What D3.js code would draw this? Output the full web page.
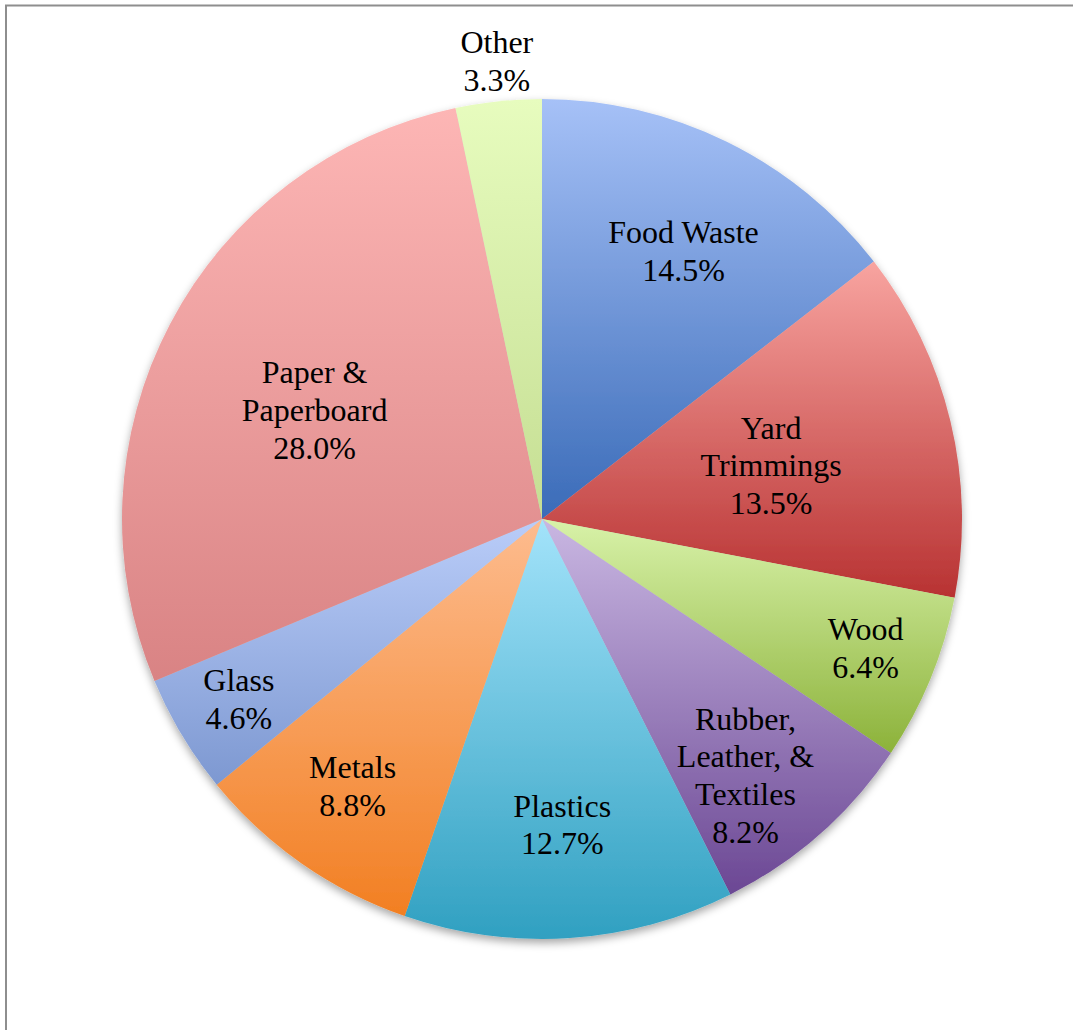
<!DOCTYPE html>
<html>
<head>
<meta charset="utf-8">
<script src="https://cdn.jsdelivr.net/npm/d3@7"></script>
<style>
  html, body { margin: 0; padding: 0; background: #fff; }
  svg { display: block; }
</style>
</head>
<body>
<svg id="chart" width="1073" height="1030"></svg>
<script>
// Municipal solid waste composition (percent of total)
const categories = ["Food Waste", "Yard Trimmings", "Wood", "Rubber, Leather, & Textiles",
  "Plastics", "Metals", "Glass", "Paper & Paperboard", "Other"];
const values = [14.5, 13.5, 6.4, 8.2, 12.7, 8.8, 4.6, 28.0, 3.3];
// Line breaks used for each slice label
const labelLines = [
  ["Food Waste"],
  ["Yard", "Trimmings"],
  ["Wood"],
  ["Rubber,", "Leather, &", "Textiles"],
  ["Plastics"],
  ["Metals"],
  ["Glass"],
  ["Paper &", "Paperboard"],
  ["Other"]
];

// Styling: vertical gradient stops (top, bottom) per slice
const gradTop = ["#a6c1f7", "#f8a4a0", "#d8f2a9", "#c9b7e2", "#a3e3fa", "#fdbc8f", "#bacdf9", "#fdb6b5", "#e7fcbe"];
const gradBottom = ["#3a6bb8", "#b83232", "#8cb23a", "#6b4794", "#30a0c1", "#f27f22", "#7d98d1", "#d98384", "#c5de93"];
// Label placement: distance from centre (fraction of radius) and angular nudge (degrees)
const labelRadius = [0.72, 0.56, 0.83, 0.78, 0.73, 0.78, 0.84, 0.60, 1.095];
const labelNudge = [1.8, 0.4, -0.5, 3.0, 0, 0.4, 0.2, -2.2, 0.3];

const svg = d3.select("#chart");
const cx = 542, cy = 519, R = 420;
const fontSize = 32, lineH = 37.7;

// Frame
svg.append("rect")
  .attr("x", 6).attr("y", 5.5)
  .attr("width", 1200).attr("height", 1200)
  .attr("fill", "none")
  .attr("stroke", "#8e8e8e")
  .attr("stroke-width", 2);

const defs = svg.append("defs");
const shadow = defs.append("filter").attr("id", "pieShadow")
  .attr("x", "-10%").attr("y", "-10%").attr("width", "120%").attr("height", "125%");
shadow.append("feDropShadow")
  .attr("dx", 0).attr("dy", 4).attr("stdDeviation", 4)
  .attr("flood-color", "#000").attr("flood-opacity", 0.35);

categories.forEach((c, i) => {
  const g = defs.append("linearGradient").attr("id", "grad" + i)
    .attr("x1", 0).attr("y1", 0).attr("x2", 0).attr("y2", 1);
  g.append("stop").attr("offset", "0%").attr("stop-color", gradTop[i]);
  g.append("stop").attr("offset", "100%").attr("stop-color", gradBottom[i]);
});

const data = categories.map((c, i) => ({ name: c, value: values[i], i }));
const pie = d3.pie().value(d => d.value).sort(null);
const arcs = pie(data);
const arc = d3.arc().innerRadius(0).outerRadius(R);

const root = svg.append("g").attr("transform", `translate(${cx},${cy})`);

root.append("g").attr("filter", "url(#pieShadow)")
  .selectAll("path")
  .data(arcs)
  .join("path")
  .attr("d", arc)
  .attr("fill", d => `url(#grad${d.data.i})`);

const labels = root.append("g")
  .attr("font-family", "'Liberation Serif', 'Times New Roman', serif")
  .attr("font-size", fontSize)
  .attr("fill", "#000")
  .attr("text-anchor", "middle");

arcs.forEach(d => {
  const i = d.data.i;
  const a = (d.startAngle + d.endAngle) / 2 + labelNudge[i] * Math.PI / 180;
  const r = labelRadius[i] * R;
  const x = Math.sin(a) * r, y = -Math.cos(a) * r;
  const lines = labelLines[i].concat([d3.format(".1f")(d.data.value) + "%"]);
  const n = lines.length;
  const t = labels.append("text");
  lines.forEach((s, k) => {
    t.append("tspan")
      .attr("x", x)
      .attr("y", y + (k - (n - 1) / 2) * lineH + fontSize * 0.33)
      .text(s);
  });
});
</script>
</body>
</html>
